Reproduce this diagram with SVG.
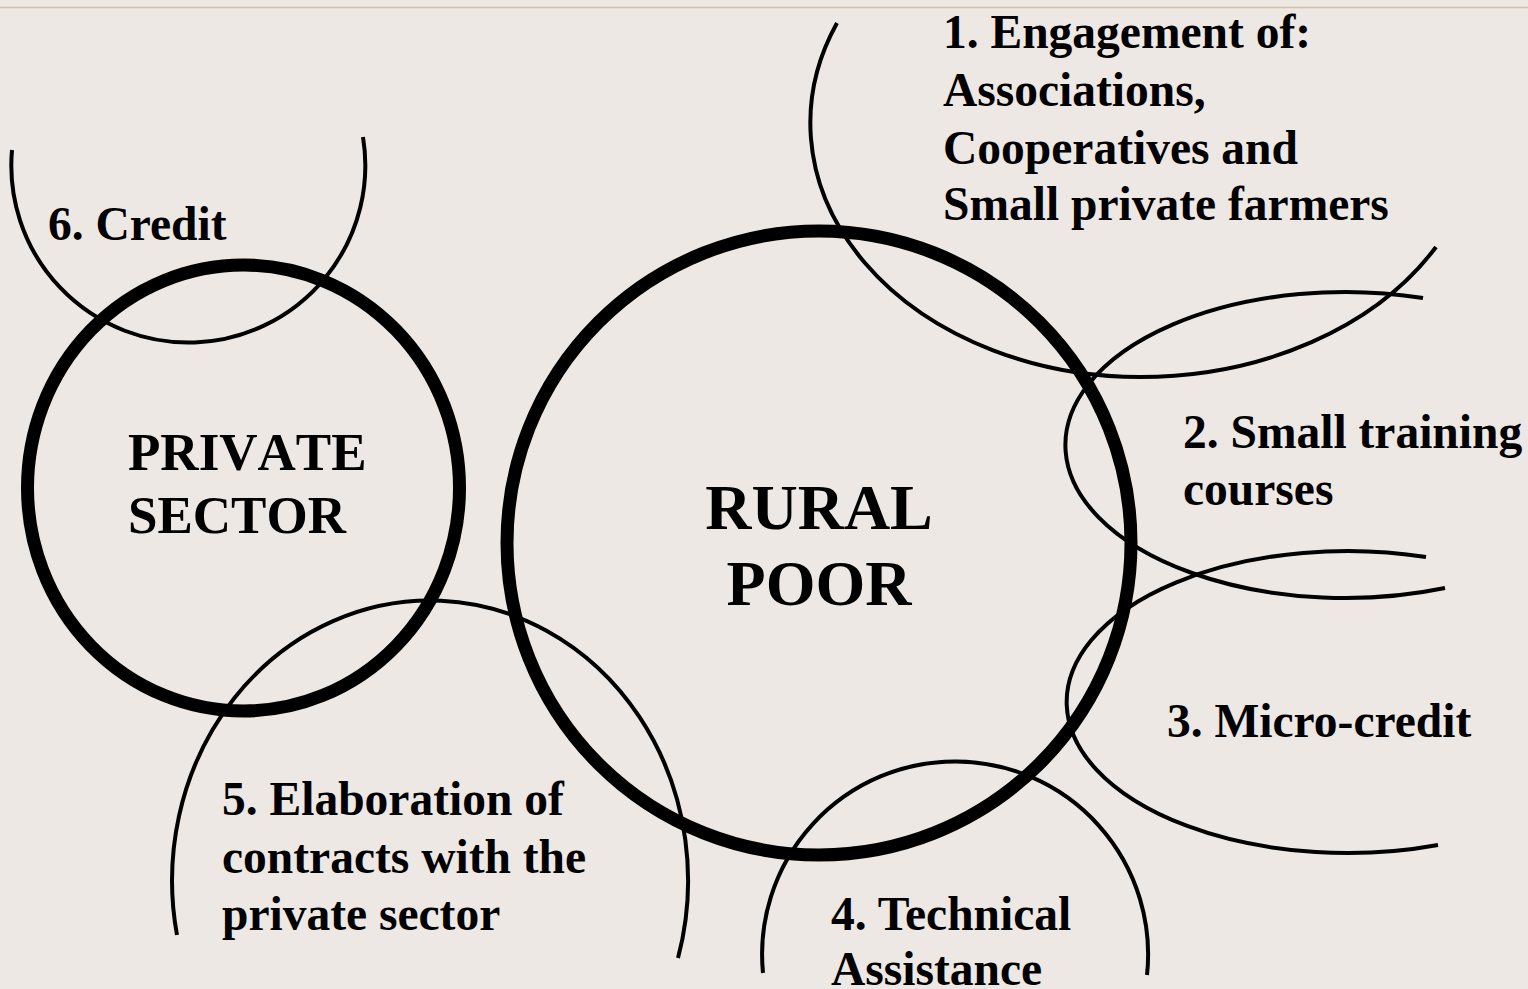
<svg xmlns="http://www.w3.org/2000/svg" width="1528" height="989" viewBox="0 0 1528 989">
  <style>
    .bg { fill: #EDE8E3; }
    .rule { stroke: #CDC39E; stroke-width: 1.5; fill: none; }
    .thick { fill: none; stroke: #000; stroke-width: 13; }
    .thin { fill: none; stroke: #000; stroke-width: 4; }
    .lbl { font-family: "Liberation Serif", "Times New Roman", serif; font-weight: bold; font-size: 47.5px; fill: #000; }
    .big { font-family: "Liberation Serif", "Times New Roman", serif; font-weight: bold; fill: #000; font-kerning: none; }
  </style>
  <rect class="bg" x="0" y="0" width="1528" height="989"/>
  <line class="rule" x1="0" y1="7.5" x2="1528" y2="7.5"/>

  <g id="item-1-engagement">
    <path class="thin" d="M837,23 A330 254 0 0 0 1140,377 A339 254 0 0 0 1436,247"/>
    <text class="lbl" x="943" y="48">1. Engagement of:</text>
    <text class="lbl" x="943" y="106">Associations,</text>
    <text class="lbl" x="943" y="164">Cooperatives and</text>
    <text class="lbl" x="943" y="220">Small private farmers</text>
  </g>

  <g id="item-2-training">
    <path class="thin" d="M1423,298 A280 153 0 1 0 1445,588"/>
    <text class="lbl" x="1183" y="448">2. Small training</text>
    <text class="lbl" x="1183" y="505">courses</text>
  </g>

  <g id="item-3-microcredit">
    <path class="thin" d="M1426,557 A281 151 0 1 0 1438,845"/>
    <text class="lbl" x="1167" y="737">3. Micro-credit</text>
  </g>

  <g id="item-4-technical">
    <path class="thin" d="M763,973 A193 193 0 1 1 1147,975"/>
    <text class="lbl" x="831" y="930">4. Technical</text>
    <text class="lbl" x="831" y="985">Assistance</text>
  </g>

  <g id="item-5-contracts">
    <path class="thin" d="M177,935 A258 280 0 1 1 678,958"/>
    <text class="lbl" x="222" y="815">5. Elaboration of</text>
    <text class="lbl" x="222" y="873">contracts with the</text>
    <text class="lbl" x="222" y="930">private sector</text>
  </g>

  <g id="item-6-credit">
    <path class="thin" d="M12,150 A177 177 0 1 0 363,137"/>
    <text class="lbl" x="48" y="240">6. Credit</text>
  </g>

  <g id="private-sector">
    <ellipse class="thick" cx="243.5" cy="488" rx="216" ry="223"/>
    <text class="big" x="128" y="470" font-size="53">PRIVATE</text>
    <text class="big" x="128" y="533" font-size="53">SECTOR</text>
  </g>

  <g id="rural-poor">
    <circle class="thick" cx="819" cy="543" r="312"/>
    <text class="big" x="819" y="529" font-size="64" text-anchor="middle">RURAL</text>
    <text class="big" x="819" y="605" font-size="64" text-anchor="middle">POOR</text>
  </g>

  <g id="connectors"/>
</svg>
